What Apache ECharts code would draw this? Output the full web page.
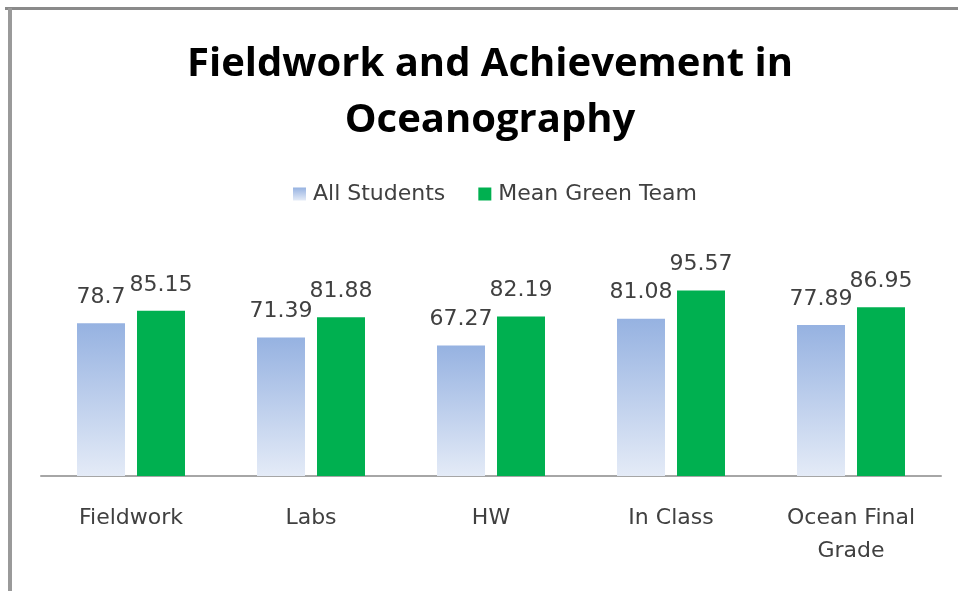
<!DOCTYPE html>
<html lang="en">
<head>
    <meta charset="UTF-8">
    <title>Fieldwork and Achievement in Oceanography</title>
    <style>
        * {
            margin: 0;
            padding: 0;
        }

        body {
            background: #fff;
        }

        #chart {
            width: 958px;
            height: 591px;
        }
    </style>
</head>
<body>
    <div id="chart"></div>
    <script src="https://cdn.jsdelivr.net/npm/echarts@6/dist/echarts.min.js"></script>
    <script>
        // data
        const categories = ['Fieldwork', 'Labs', 'HW', 'In Class', 'Ocean Final\nGrade'];
        const allStudents = [78.7, 71.39, 67.27, 81.08, 77.89];
        const meanGreenTeam = [85.15, 81.88, 82.19, 95.57, 86.95];

        const FONT = '"DejaVu Sans", sans-serif';
        const TITLE_FONT = '"Open Sans", Lato, sans-serif';
        const TEXT = '#404040';

        var myChart = echarts.init(document.getElementById('chart'));

        myChart.setOption({
            backgroundColor: '#fff',
            animation: false,
            textStyle: { fontFamily: FONT },
            title: {
                text: 'Fieldwork and Achievement in\nOceanography',
                left: 485,
                top: 32,
                textAlign: 'center',
                textStyle: {
                    fontFamily: TITLE_FONT,
                    fontSize: 40,
                    fontWeight: 'bold',
                    color: '#000',
                    lineHeight: 56
                }
            },
            legend: {
                top: 178,
                left: 288,
                itemWidth: 13,
                itemHeight: 13,
                itemGap: 33,
                icon: 'rect',
                textStyle: { fontFamily: FONT, fontSize: 22, color: TEXT, padding: [0, 0, 0, 2] }
            },
            graphic: [
                // chart frame: top and left edges only
                { type: 'line', shape: { x1: 5, y1: 8.5, x2: 958, y2: 8.5 }, style: { stroke: '#8a8a8a', lineWidth: 3 } },
                { type: 'line', shape: { x1: 10, y1: 8, x2: 10, y2: 591 }, style: { stroke: '#9a9a9a', lineWidth: 4 } }
            ],
            grid: {
                left: 41,
                right: 17,
                top: 282,
                bottom: 115
            },
            xAxis: {
                type: 'category',
                data: categories,
                axisTick: { show: false },
                axisLine: { lineStyle: { color: '#a6a6a6', width: 2 } },
                axisLabel: {
                    margin: 26,
                    fontFamily: FONT,
                    fontSize: 22,
                    lineHeight: 33,
                    color: TEXT,
                    interval: 0
                }
            },
            yAxis: {
                type: 'value',
                min: 0,
                max: 100,
                show: false,
                splitLine: { show: false }
            },
            series: [
                {
                    name: 'All Students',
                    type: 'bar',
                    data: allStudents,
                    barWidth: 48,
                    barGap: '25%',
                    itemStyle: {
                        color: new echarts.graphic.LinearGradient(0, 0, 0, 1, [
                            { offset: 0, color: '#96b2e1' },
                            { offset: 1, color: '#e4ebf7' }
                        ])
                    },
                    label: {
                        show: true,
                        position: 'top',
                        distance: 15,
                        fontFamily: FONT,
                        fontSize: 22,
                        color: TEXT
                    }
                },
                {
                    name: 'Mean Green Team',
                    type: 'bar',
                    data: meanGreenTeam,
                    barWidth: 48,
                    itemStyle: { color: '#00b050' },
                    label: {
                        show: true,
                        position: 'top',
                        distance: 15,
                        fontFamily: FONT,
                        fontSize: 22,
                        color: TEXT
                    }
                }
            ]
        });
    </script>
</body>
</html>
